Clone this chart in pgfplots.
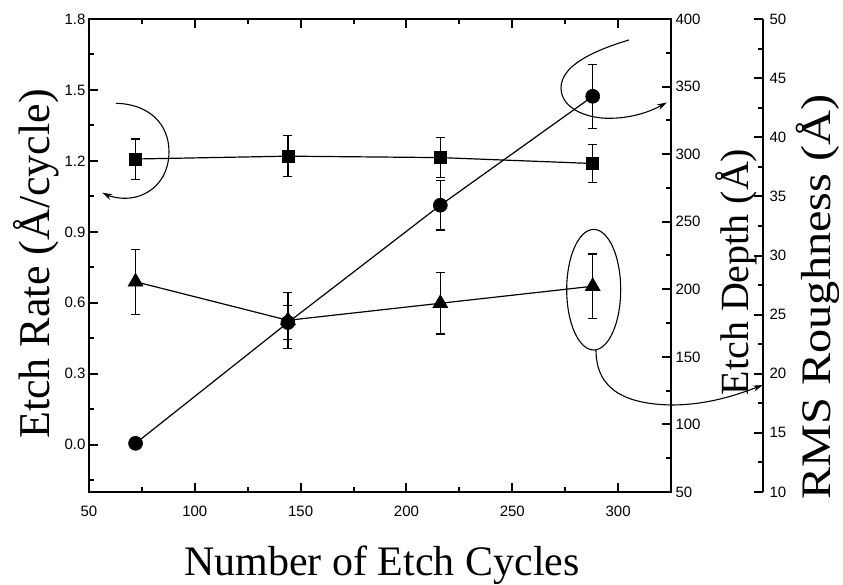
\documentclass[border=0pt]{standalone}
\usepackage{fontspec}
\setmainfont{Liberation Serif}
\setsansfont{Liberation Sans}
\usepackage{graphicx}
\usepackage{pgfplots}
\usepackage{pgfplotstable}
\pgfplotsset{compat=1.18}
\usetikzlibrary{arrows.meta}

% Etch rate (A/cycle), left axis
\pgfplotstableread{
x    y      e
72   1.208  0.085
144  1.220  0.087
216  1.214  0.085
288  1.189  0.081
}\rate
% Etch depth (A), first right axis
\pgfplotstableread{
x    y      e
72   86.0   4.0
144  175.4  12.4
216  262.2  18.3
288  342.8  23.7
}\depth
% RMS roughness (A), second right axis
\pgfplotstableread{
x    y      e
72   27.78  2.76
144  24.52  2.37
216  25.96  2.60
288  27.40  2.72
}\rough

\pgfplotsset{
  base/.style={
    scale only axis, width=582pt, height=473pt,
    at={(0pt,0pt)}, anchor=south west,
    xmin=50, xmax=325,
    tick align=inside,
    major tick length=9pt, minor tick length=5pt,
    tick style={black, line width=2pt},
    axis line style={line width=2.4pt},
    clip=false,
  },
  series/.style={
    black, line width=1.2pt, mark options={solid, line width=0.6pt},
    error bars/.cd, y dir=both, y explicit,
    error bar style={line width=1.2pt},
    error mark options={rotate=90, mark size=4.5pt, line width=1.2pt},
  },
}

\begin{document}
\begin{tikzpicture}
% page area
\path[use as bounding box] (-89pt,-92pt) rectangle (754pt,492pt);
% main frame with etch rate
\begin{axis}[base,
  ymin=-0.2, ymax=1.8,
  ytick={0,0.3,0.6,0.9,1.2,1.5,1.8},
  minor ytick={-0.15,0.15,0.45,0.75,1.05,1.35,1.65},
  xtick={50,100,...,300},
  minor xtick={75,125,175,225,275},
  xtick pos=both, xticklabel pos=lower, ytick pos=left,
  tick label style={font=\sffamily\fontsize{15}{15}\selectfont},
  /pgf/number format/assume math mode=true,
  yticklabel style={/pgf/number format/.cd, fixed, fixed zerofill, precision=1},
  xticklabel style={yshift=-10pt},
]
\addplot[mark=square*, mark size=6pt, series] table[x=x, y=y, y error=e] {\rate};
\end{axis}
% etch depth axis
\begin{axis}[base,
  ymin=50, ymax=400,
  hide x axis, axis y line*=right,
  ytick={50,100,...,400},
  minor ytick={75,125,...,375},
  tick label style={font=\sffamily\fontsize{15}{15}\selectfont},
  /pgf/number format/assume math mode=true,
  yticklabel style={xshift=1pt},
]
\addplot[mark=*, mark size=7pt, series] table[x=x, y=y, y error=e] {\depth};
\end{axis}
% roughness data
\begin{axis}[base, ymin=10, ymax=50, hide axis]
\addplot[mark=triangle*, mark size=8.5pt, series] table[x=x, y=y, y error=e] {\rough};
\end{axis}
% roughness axis, offset to the right
\begin{axis}[base, at={(92pt,0pt)},
  ymin=10, ymax=50,
  hide x axis, axis y line*=right,
  ytick={10,15,...,50},
  minor ytick={12.5,17.5,...,47.5},
  tick label style={font=\sffamily\fontsize{15}{15}\selectfont},
  /pgf/number format/assume math mode=true,
  yticklabel style={xshift=3pt},
]
\end{axis}

\begin{scope}[x=1pt, y=1pt, line width=1.1pt, black]
  % arrow pointing to the etch-rate axis
  \draw[-{Stealth[length=10pt, width=6pt]}]
    (27,388.7) .. controls (60,388) and (80,368) .. (80,340.3)
    .. controls (80,310) and (58,293.7) .. (36,293.7)
    .. controls (28,293.7) and (20,296) .. (13.3,299.3);
  % loop pointing to the etch-depth axis
  \draw[-{Stealth[length=10pt, width=6pt]}]
    (540,452) .. controls (500,440) and (472,425) .. (472,404)
    .. controls (472,385) and (495,373.5) .. (521,373.7)
    .. controls (545,374) and (562,381) .. (578,389.5);
  % ellipse and arrow pointing to the roughness axis
  \draw (504.7,202.3) ellipse [x radius=27, y radius=60.3];
  \draw[-{Stealth[length=10pt, width=6pt]}]
    (507,142) .. controls (507,100) and (540,88) .. (582,87)
    .. controls (620,87) and (650,98) .. (674,107);

  \node[rotate=90, anchor=base, font=\fontsize{44}{44}\selectfont] at (-39,228) {Etch Rate (Å/cycle)};
  \node[anchor=base, font=\fontsize{42}{42}\selectfont] at (293,-83) {Number of Etch Cycles};
  \node[rotate=90, anchor=base, font=\fontsize{40}{40}\selectfont] at (659,220) {Etch Depth (Å)};
  \node[rotate=90, anchor=base, font=\fontsize{42}{42}\selectfont] at (741,195) {\scalebox{1.15}[1]{RMS Roughness (Å)}};
\end{scope}
\end{tikzpicture}
\end{document}
